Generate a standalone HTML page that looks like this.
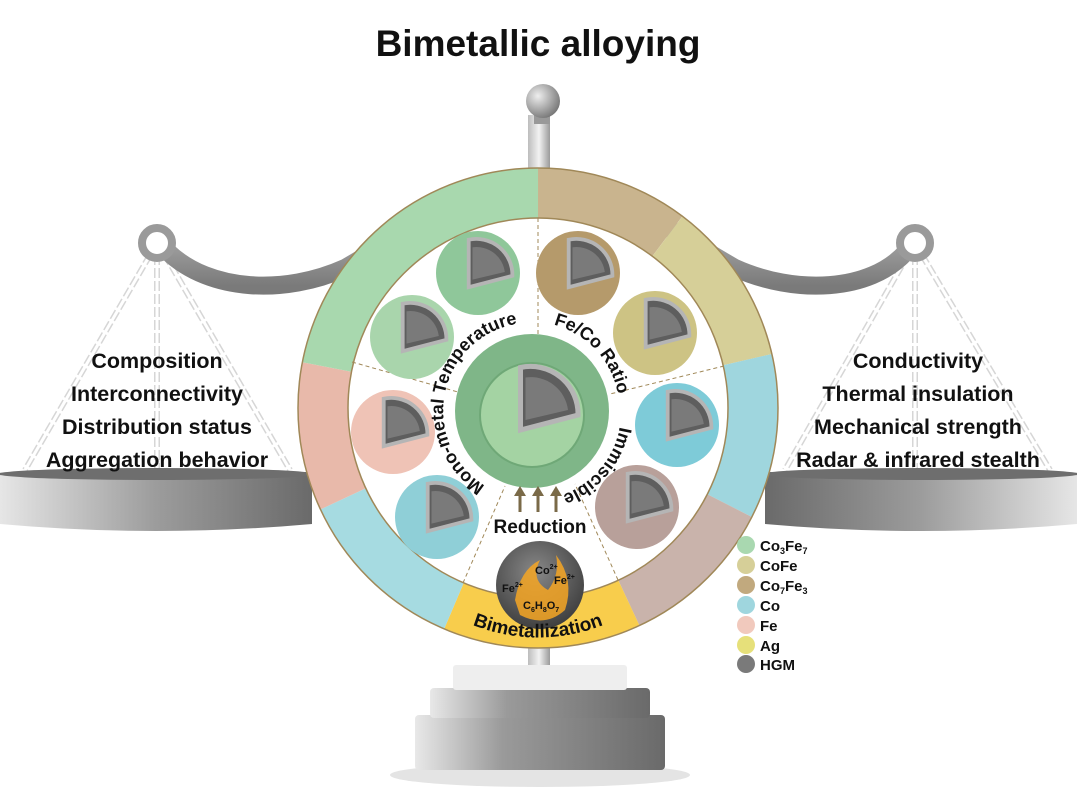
<!DOCTYPE html>
<html><head><meta charset="utf-8"><style>
html,body{margin:0;padding:0;background:#fff;}
svg{display:block;font-family:"Liberation Sans",Arial,sans-serif;}
</style></head><body>
<svg width="1077" height="809" viewBox="0 0 1077 809" xmlns="http://www.w3.org/2000/svg">
<defs>
<linearGradient id="gbeam" x1="0" y1="0" x2="0" y2="1"><stop offset="0" stop-color="#d0d0d0"/><stop offset="0.5" stop-color="#a8a8a8"/><stop offset="1" stop-color="#7a7a7a"/></linearGradient>
<linearGradient id="gpan" x1="0" y1="0" x2="1" y2="0"><stop offset="0" stop-color="#e6e6e6"/><stop offset="0.5" stop-color="#9c9c9c"/><stop offset="1" stop-color="#6a6a6a"/></linearGradient>
<linearGradient id="gpanR" x1="0" y1="0" x2="1" y2="0"><stop offset="0" stop-color="#6a6a6a"/><stop offset="0.5" stop-color="#9c9c9c"/><stop offset="1" stop-color="#e6e6e6"/></linearGradient>
<linearGradient id="gbase" x1="0" y1="0" x2="1" y2="0"><stop offset="0" stop-color="#e8e8e8"/><stop offset="0.35" stop-color="#9a9a9a"/><stop offset="1" stop-color="#6a6a6a"/></linearGradient>
<linearGradient id="gpole" x1="0" y1="0" x2="1" y2="0"><stop offset="0" stop-color="#bdbdbd"/><stop offset="0.5" stop-color="#f2f2f2"/><stop offset="1" stop-color="#9a9a9a"/></linearGradient>
<radialGradient id="gball" cx="0.35" cy="0.35" r="0.7"><stop offset="0" stop-color="#eee"/><stop offset="1" stop-color="#777"/></radialGradient>
<radialGradient id="ghgm" cx="0.45" cy="0.35" r="0.7"><stop offset="0" stop-color="#888"/><stop offset="1" stop-color="#3a3a3a"/></radialGradient>
<g id="wedge"><path d="M-14,16 L-14,-34 A38,38 0 0 1 32,4 Z" fill="#5e5e5e" stroke="#b5b5b5" stroke-width="4"/><path d="M-10,8 L-10,-26 A30,30 0 0 1 24,0 Z" fill="#7a7a7a"/></g>
</defs>

<text x="538" y="56" text-anchor="middle" font-size="37" font-weight="bold" fill="#111">Bimetallic alloying</text>

<g stroke="#d6d6d6" stroke-width="6" fill="none" stroke-dasharray="10 3">
<path d="M150,255 L25,470"/><path d="M157,255 L157,470"/><path d="M165,255 L290,470"/>
<path d="M908,255 L785,470"/><path d="M915,255 L915,470"/><path d="M922,255 L1050,470"/>
</g>
<g stroke="#fff" stroke-width="3" fill="none">
<path d="M150,255 L25,470"/><path d="M157,255 L157,470"/><path d="M165,255 L290,470"/>
<path d="M908,255 L785,470"/><path d="M915,255 L915,470"/><path d="M922,255 L1050,470"/>
</g>

<path d="M168,252 C210,292 285,295 345,268 C420,225 470,185 540,180 C610,185 660,225 735,268 C795,295 870,292 906,252" fill="none" stroke="url(#gbeam)" stroke-width="18"/>
<circle cx="157" cy="243" r="15" fill="none" stroke="#9a9a9a" stroke-width="8"/>
<circle cx="915" cy="243" r="15" fill="none" stroke="#9a9a9a" stroke-width="8"/>

<rect x="528" y="115" width="22" height="560" fill="url(#gpole)"/>
<rect x="534" y="112" width="16" height="12" fill="#999"/>
<circle cx="543" cy="101" r="17" fill="url(#gball)"/>

<path d="M0,472 L312,472 L312,524 Q156,538 0,524 Z" fill="url(#gpan)"/>
<ellipse cx="156" cy="474" rx="158" ry="6" fill="#6e6e6e"/>
<path d="M765,472 L1077,472 L1077,524 Q921,538 765,524 Z" fill="url(#gpanR)"/>
<ellipse cx="921" cy="474" rx="158" ry="6" fill="#6e6e6e"/>

<ellipse cx="540" cy="775" rx="150" ry="12" fill="#e4e4e4"/>
<rect x="415" y="715" width="250" height="55" rx="4" fill="url(#gbase)"/>
<rect x="430" y="688" width="220" height="30" rx="4" fill="url(#gbase)"/>
<rect x="453" y="665" width="174" height="25" rx="3" fill="#eeeeee"/>

<g fill="none" stroke-width="50">
<circle cx="538" cy="408" r="215" stroke="#c9b48e" stroke-dasharray="138.8 2000" transform="rotate(-90 538 408)"/>
<circle cx="538" cy="408" r="215" stroke="#d6cf98" stroke-dasharray="150.1 2000" transform="rotate(-53 538 408)"/>
<circle cx="538" cy="408" r="215" stroke="#9fd6de" stroke-dasharray="150.1 2000" transform="rotate(-13 538 408)"/>
<circle cx="538" cy="408" r="215" stroke="#c9b3ab" stroke-dasharray="142.6 2000" transform="rotate(27 538 408)"/>
<circle cx="538" cy="408" r="215" stroke="#f8cd4c" stroke-dasharray="180.1 2000" transform="rotate(65 538 408)"/>
<circle cx="538" cy="408" r="215" stroke="#a6dbe1" stroke-dasharray="157.6 2000" transform="rotate(113 538 408)"/>
<circle cx="538" cy="408" r="215" stroke="#e8b9aa" stroke-dasharray="135.1 2000" transform="rotate(155 538 408)"/>
<circle cx="538" cy="408" r="215" stroke="#a8d8ae" stroke-dasharray="296.4 2000" transform="rotate(191 538 408)"/>
</g>
<circle cx="538" cy="408" r="240" fill="none" stroke="#a08858" stroke-width="1.5"/>
<circle cx="538" cy="408" r="190" fill="#fff" stroke="#a08858" stroke-width="1.5"/>

<g stroke="#a08858" stroke-width="1" stroke-dasharray="4 3">
<line x1="538" y1="218" x2="538" y2="334"/>
<line x1="352" y1="362" x2="458" y2="392"/>
<line x1="724" y1="366" x2="610" y2="394"/>
<line x1="463" y1="583" x2="505" y2="486"/>
<line x1="618" y1="580" x2="575" y2="484"/>
</g>

<g>
<circle cx="478" cy="273" r="42" fill="#8fc79a"/><use href="#wedge" transform="translate(482,272) scale(0.95)"/>
<circle cx="412" cy="337" r="42" fill="#a9d5ac"/><use href="#wedge" transform="translate(416,336) scale(0.95)"/>
<circle cx="393" cy="432" r="42" fill="#efc3b6"/><use href="#wedge" transform="translate(397,431) scale(0.95)"/>
<circle cx="437" cy="517" r="42" fill="#8fcfd7"/><use href="#wedge" transform="translate(441,516) scale(0.95)"/>
<circle cx="578" cy="273" r="42" fill="#b59a6b"/><use href="#wedge" transform="translate(582,272) scale(0.95)"/>
<circle cx="655" cy="333" r="42" fill="#cdc384"/><use href="#wedge" transform="translate(659,332) scale(0.95)"/>
<circle cx="677" cy="425" r="42" fill="#7ecbd8"/><use href="#wedge" transform="translate(681,424) scale(0.95)"/>
<circle cx="637" cy="507" r="42" fill="#b8a09a"/><use href="#wedge" transform="translate(641,506) scale(0.95)"/>
</g>

<circle cx="532" cy="411" r="77" fill="#7fb688"/>
<circle cx="532" cy="415" r="52" fill="#a4d3a3" stroke="#6fa877" stroke-width="2"/>
<use href="#wedge" transform="translate(538,410) scale(1.25)"/>

<path id="pMono" d="M491,489 A88,88 0 0 1 524,323" fill="none"/>
<path id="pFe" d="M546,323 A88,88 0 0 1 619,402" fill="none"/>
<path id="pImm" d="M621,416 A89,89 0 0 1 552,498" fill="none"/>
<g font-size="18" font-weight="bold" fill="#111">
<text><textPath href="#pMono" startOffset="50%" text-anchor="middle">Mono-metal Temperature</textPath></text>
<text><textPath href="#pFe" startOffset="50%" text-anchor="middle">Fe/Co Ratio</textPath></text>
<text><textPath href="#pImm" startOffset="50%" text-anchor="middle">Immiscible</textPath></text>
</g>

<g fill="#7a6a48" stroke="#7a6a48" stroke-width="3">
<line x1="520" y1="512" x2="520" y2="494"/><path d="M514,496 L520,486 L526,496 Z" stroke="none"/>
<line x1="538" y1="512" x2="538" y2="494"/><path d="M532,496 L538,486 L544,496 Z" stroke="none"/>
<line x1="556" y1="512" x2="556" y2="494"/><path d="M550,496 L556,486 L562,496 Z" stroke="none"/>
</g>
<text x="540" y="533" text-anchor="middle" font-size="19" font-weight="bold" fill="#111">Reduction</text>

<circle cx="540" cy="585" r="44" fill="url(#ghgm)"/>
<g fill="#f6a623" opacity="0.85">
<path d="M515,600 Q520,570 540,560 Q530,580 548,590 Q560,575 556,555 Q575,580 565,610 Q545,628 520,615 Z"/>
</g>
<g font-size="11" font-weight="bold" fill="#111">
<text x="535" y="574">Co<tspan font-size="7" dy="-5">2+</tspan></text>
<text x="554" y="584">Fe<tspan font-size="7" dy="-5">2+</tspan></text>
<text x="502" y="592">Fe<tspan font-size="7" dy="-5">2+</tspan></text>
<text x="523" y="609">C<tspan font-size="7" dy="3">6</tspan><tspan dy="-3">H</tspan><tspan font-size="7" dy="3">8</tspan><tspan dy="-3">O</tspan><tspan font-size="7" dy="3">7</tspan></text>
</g>
<path id="pBim" d="M450,617 A226,226 0 0 0 626,617" fill="none" transform="scale(1,-1) translate(0,-1252)"/>
<path id="pBim2" d="M450,615 Q538,660 626,615" fill="none"/>
<text font-size="19" font-weight="bold" fill="#111"><textPath href="#pBim2" startOffset="50%" text-anchor="middle">Bimetallization</textPath></text>

<g font-size="21.5" font-weight="bold" fill="#111" text-anchor="middle">
<text x="157" y="368">Composition</text>
<text x="157" y="401">Interconnectivity</text>
<text x="157" y="434">Distribution status</text>
<text x="157" y="467">Aggregation behavior</text>
<text x="918" y="368">Conductivity</text>
<text x="918" y="401">Thermal insulation</text>
<text x="918" y="434">Mechanical strength</text>
<text x="918" y="467">Radar &amp; infrared stealth</text>
</g>

<g>
<circle cx="746" cy="545" r="9" fill="#a9d8b0"/>
<circle cx="746" cy="565" r="9" fill="#d6cf98"/>
<circle cx="746" cy="585" r="9" fill="#c1a97e"/>
<circle cx="746" cy="605" r="9" fill="#9fd6de"/>
<circle cx="746" cy="625" r="9" fill="#f1c9bd"/>
<circle cx="746" cy="645" r="9" fill="#e6e07a"/>
<circle cx="746" cy="664" r="9" fill="#7a7a7a"/>
</g>
<g font-size="15" font-weight="bold" fill="#111">
<text x="760" y="551">Co<tspan font-size="9" dy="3">3</tspan><tspan dy="-3">Fe</tspan><tspan font-size="9" dy="3">7</tspan></text>
<text x="760" y="571">CoFe</text>
<text x="760" y="591">Co<tspan font-size="9" dy="3">7</tspan><tspan dy="-3">Fe</tspan><tspan font-size="9" dy="3">3</tspan></text>
<text x="760" y="611">Co</text>
<text x="760" y="631">Fe</text>
<text x="760" y="651">Ag</text>
<text x="760" y="670">HGM</text>
</g>
</svg>
</body></html>
